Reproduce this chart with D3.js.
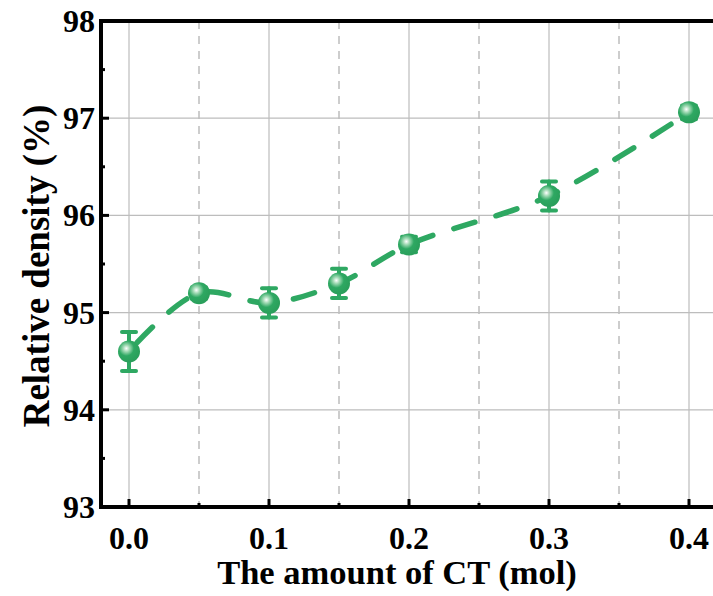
<!DOCTYPE html>
<html>
<head>
<meta charset="utf-8">
<script src="https://cdn.jsdelivr.net/npm/d3@7"></script>
<style>
  body { margin: 0; background: #fff; }
  svg { display: block; }
</style>
</head>
<body>
<svg id="chart" width="713" height="596"></svg>
<script>
// data
const ctAmount = [0.0, 0.05, 0.1, 0.15, 0.2, 0.3, 0.4];
const relDensity = [94.6, 95.2, 95.1, 95.3, 95.7, 96.2, 97.06];
const densityErr = [0.2, 0.06, 0.15, 0.15, 0.08, 0.15, 0.07];
const xTicks = [0.0, 0.1, 0.2, 0.3, 0.4];
const xMinor = [0.05, 0.15, 0.25, 0.35];
const yTicks = [93, 94, 95, 96, 97, 98];
const yMinor = [93.5, 94.5, 95.5, 96.5, 97.5];

const green = '#2ea862';
const font = "'Liberation Serif', 'Times New Roman', 'DejaVu Serif', serif";
const margin = {top: 21, right: 0, bottom: 89, left: 101};

const svg = d3.select('#chart');
const width = +svg.attr('width');
const height = +svg.attr('height');

const x = d3.scaleLinear().domain([-0.02, 0.42]).range([margin.left, margin.left + 0.44 * 1400]);
const y = d3.scaleLinear().domain([93, 98]).range([height - margin.bottom, margin.top]);

const defs = svg.append('defs');
const grad = defs.append('radialGradient').attr('id', 'ball')
  .attr('cx', '38%').attr('cy', '36%').attr('r', '62%');
grad.append('stop').attr('offset', '0%').attr('stop-color', '#ffffff');
grad.append('stop').attr('offset', '22%').attr('stop-color', '#a6dcb8');
grad.append('stop').attr('offset', '55%').attr('stop-color', green);
grad.append('stop').attr('offset', '100%').attr('stop-color', '#2a9f5b');

const x0 = margin.left, x1 = x(0.42);
const yTop = y(98), yBot = y(93);

// grid
const grid = svg.append('g');
grid.selectAll('.vmaj').data(xTicks).join('line')
  .attr('x1', d => x(d)).attr('x2', d => x(d)).attr('y1', yTop).attr('y2', yBot)
  .attr('stroke', '#bdbdbd').attr('stroke-width', 1.2);
grid.selectAll('.vmin').data(xMinor).join('line')
  .attr('x1', d => x(d)).attr('x2', d => x(d)).attr('y1', yTop).attr('y2', yBot)
  .attr('stroke', '#bdbdbd').attr('stroke-width', 1.5).attr('stroke-dasharray', '8,7');
grid.selectAll('.hmaj').data(yTicks.slice(1, -1)).join('line')
  .attr('x1', x0).attr('x2', x1).attr('y1', d => y(d)).attr('y2', d => y(d))
  .attr('stroke', '#bdbdbd').attr('stroke-width', 1.2);

// line
const line = d3.line().x((d, i) => x(ctAmount[i])).y(d => y(d)).curve(d3.curveCatmullRom.alpha(0.5));
svg.append('path').datum(relDensity)
  .attr('d', line).attr('fill', 'none').attr('stroke', green)
  .attr('stroke-width', 5.5).attr('stroke-linecap', 'round')
  .attr('stroke-dasharray', '22,22').attr('stroke-dashoffset', -12);

// error bars
const eb = svg.append('g').attr('stroke', green).attr('stroke-width', 4).attr('stroke-linecap', 'round');
relDensity.forEach((v, i) => {
  const cx = x(ctAmount[i]);
  eb.append('line').attr('x1', cx).attr('x2', cx).attr('y1', y(v - densityErr[i])).attr('y2', y(v + densityErr[i]));
  [v - densityErr[i], v + densityErr[i]].forEach(e => {
    eb.append('line').attr('x1', cx - 7).attr('x2', cx + 7).attr('y1', y(e)).attr('y2', y(e));
  });
});

// markers
svg.append('g').selectAll('circle').data(relDensity).join('circle')
  .attr('cx', (d, i) => x(ctAmount[i])).attr('cy', d => y(d)).attr('r', 11)
  .attr('fill', 'url(#ball)');

// frame
const frame = svg.append('g').attr('stroke', '#000').attr('stroke-width', 4).attr('fill', 'none');
frame.append('path').attr('d', `M${x1},${yTop}H${x0}V${yBot}H${x1}`).attr('stroke-linecap', 'square');

// ticks
const tk = svg.append('g').attr('stroke', '#000');
tk.selectAll('.xt').data(xTicks).join('line')
  .attr('x1', d => x(d)).attr('x2', d => x(d)).attr('y1', yBot).attr('y2', yBot - 8).attr('stroke-width', 3);
tk.selectAll('.xm').data(xMinor).join('line')
  .attr('x1', d => x(d)).attr('x2', d => x(d)).attr('y1', yBot).attr('y2', yBot - 4).attr('stroke-width', 3);
tk.selectAll('.yt').data(yTicks).join('line')
  .attr('x1', x0).attr('x2', x0 + 8).attr('y1', d => y(d)).attr('y2', d => y(d)).attr('stroke-width', 3);
tk.selectAll('.ym').data(yMinor).join('line')
  .attr('x1', x0).attr('x2', x0 + 4).attr('y1', d => y(d)).attr('y2', d => y(d)).attr('stroke-width', 3);

// tick labels
const txt = svg.append('g').attr('font-family', font).attr('font-weight', 'bold');
txt.selectAll('.xl').data(xTicks).join('text')
  .attr('x', d => x(d)).attr('y', yBot + 42).attr('text-anchor', 'middle')
  .attr('font-size', 32).text(d => d.toFixed(1));
txt.selectAll('.yl').data(yTicks).join('text')
  .attr('x', x0 - 6).attr('y', d => y(d) + 11).attr('text-anchor', 'end')
  .attr('font-size', 32).text(d => d);

// axis titles
txt.append('text').attr('x', 397).attr('y', 584).attr('text-anchor', 'middle')
  .attr('font-size', 34.5).text('The amount of CT (mol)');
txt.append('text').attr('transform', `translate(49,266) rotate(-90)`)
  .attr('text-anchor', 'middle').attr('font-size', 37).text('Relative density (%)');
</script>
</body>
</html>
